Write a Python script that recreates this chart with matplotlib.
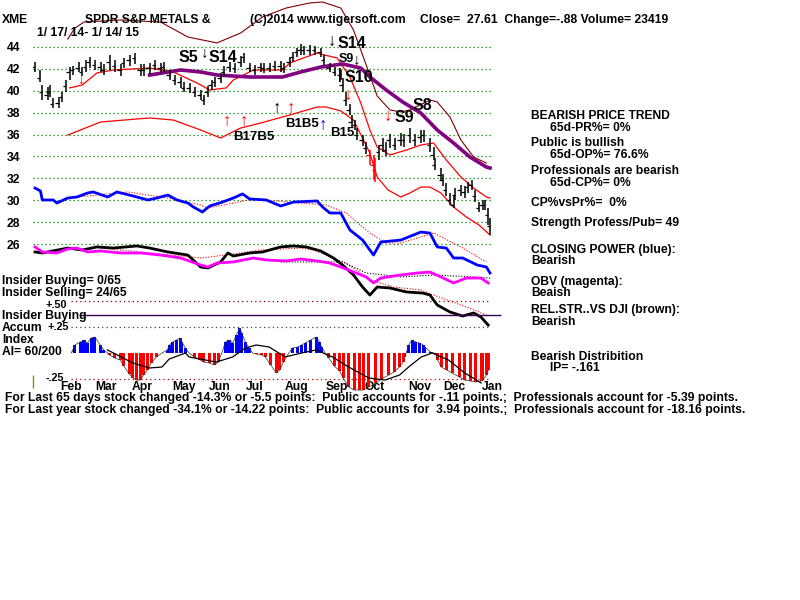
import matplotlib
matplotlib.use("Agg")
import matplotlib.pyplot as plt

plt.rcParams['font.family'] = ['Liberation Sans', 'DejaVu Sans']
plt.rcParams['font.weight'] = 'bold'

# ---------------- data (x = trading day index from 1/17/14) ----------------
bar_day = [0, 3, 4, 7, 8, 10, 13, 15, 17, 19,
           21, 24, 26, 28, 30, 33, 36, 38, 41, 44,
           47, 49, 52, 55, 58, 60, 63, 66, 69, 71,
           74, 77, 80, 82, 85, 88, 91, 93, 95, 97,
           99, 102, 104, 107, 110, 113, 115, 118, 121, 124,
           126, 129, 132, 135, 137, 140, 142, 144, 146, 148,
           151, 154, 157, 159, 162, 165, 168, 169, 171, 173,
           174, 176, 177, 180, 182, 184, 186, 187, 189, 191,
           193, 195, 198, 201, 203, 206, 209, 212, 214, 217,
           219, 220, 223, 224, 226, 228, 230, 231, 234, 236,
           238, 240, 242, 244, 246, 247, 249, 250]
bar_close = [42.17, 41.17, 39.89, 39.62, 39.89, 38.79, 38.89, 39.43, 40.44, 41.72,
             41.90, 42.08, 41.72, 42.17, 42.63, 42.36, 42.17, 41.90, 42.63, 42.26,
             41.90, 42.54, 42.81, 43.00, 41.90, 41.90, 42.08, 42.36, 42.08, 42.17,
             41.44, 40.99, 40.80, 40.26, 40.26, 39.89, 39.62, 39.16, 39.89, 40.53,
             40.80, 41.17, 41.72, 42.17, 42.08, 42.63, 43.09, 42.08, 41.90, 42.17,
             42.08, 42.08, 42.26, 42.26, 42.08, 42.63, 43.09, 43.54, 43.73, 43.73,
             43.73, 43.73, 43.54, 42.81, 42.08, 41.72, 41.44, 40.53, 39.16, 38.25,
             37.15, 36.88, 35.96, 35.51, 34.78, 34.14, 33.22, 32.77, 34.41, 35.05,
             34.59, 35.51, 35.05, 35.51, 35.51, 35.96, 35.51, 35.78, 35.96, 35.05,
             34.14, 33.22, 32.31, 31.85, 30.94, 30.03, 29.57, 30.48, 30.94, 30.76,
             31.21, 31.40, 30.39, 29.30, 29.57, 29.57, 28.66, 27.61]
bar_high = [42.63, 41.90, 40.53, 40.35, 40.53, 39.34, 39.43, 39.89, 40.99, 42.17,
            42.26, 42.63, 42.17, 42.81, 43.09, 42.81, 42.63, 42.45, 43.27, 42.81,
            42.45, 43.00, 43.27, 43.45, 42.45, 42.45, 42.54, 42.81, 42.54, 42.63,
            41.90, 41.44, 41.26, 40.80, 40.71, 40.35, 40.07, 39.62, 40.44, 40.99,
            41.26, 41.63, 42.26, 42.63, 42.54, 43.18, 43.45, 42.54, 42.36, 42.54,
            42.54, 42.54, 42.72, 42.72, 42.54, 43.09, 43.54, 43.91, 44.27, 44.09,
            44.18, 44.09, 43.91, 43.27, 42.54, 42.17, 41.90, 41.17, 39.89, 38.79,
            37.79, 37.33, 36.60, 35.96, 35.32, 34.59, 34.14, 33.86, 35.05, 35.69,
            35.32, 36.05, 35.69, 36.15, 36.05, 36.60, 36.05, 36.42, 36.42, 35.69,
            34.87, 33.86, 32.95, 32.40, 31.58, 30.67, 30.39, 31.12, 31.40, 31.31,
            31.67, 31.85, 30.94, 29.84, 30.03, 30.03, 29.30, 28.38]
bar_low = [41.72, 40.80, 39.16, 39.16, 39.43, 38.43, 38.43, 38.98, 39.89, 40.99,
           41.44, 41.72, 41.35, 41.72, 42.08, 41.90, 41.72, 41.44, 41.90, 41.72,
           41.35, 42.08, 42.26, 42.45, 41.35, 41.35, 41.53, 41.90, 41.63, 41.72,
           40.99, 40.53, 40.26, 39.89, 39.80, 39.43, 39.16, 38.70, 39.43, 40.07,
           40.35, 40.71, 41.35, 41.72, 41.63, 42.17, 42.54, 41.72, 41.44, 41.72,
           41.63, 41.72, 41.81, 41.72, 41.63, 42.17, 42.63, 43.09, 43.27, 43.27,
           43.27, 43.27, 43.09, 42.36, 41.72, 41.35, 40.99, 39.89, 38.61, 37.79,
           36.69, 36.42, 35.51, 34.96, 34.23, 33.22, 31.85, 31.67, 33.68, 34.41,
           34.05, 34.78, 34.59, 34.96, 34.87, 35.23, 34.96, 35.23, 35.32, 34.41,
           33.68, 32.77, 31.85, 31.31, 30.39, 29.57, 29.30, 30.03, 30.39, 30.21,
           30.67, 30.94, 29.84, 28.93, 29.11, 29.11, 27.74, 26.83]
red_bar_days = [184, 186, 187]

upper_day = [18, 22, 27, 47, 69, 77, 84, 100, 113, 125, 138, 151, 158, 168, 175, 181,
             188, 195, 201, 206, 217, 221, 228, 234, 241, 248]
upper_val = [44.73, 45.74, 46.28, 46.47, 46.28, 45.55, 44.91, 44.37, 45.28, 46.74, 47.56,
             48.02, 48.11, 47.56, 45.55, 42.81, 39.53, 38.25, 38.07, 38.25, 39.16, 38.98,
             37.61, 35.51, 33.95, 33.40]
mid_day = [19, 26, 34, 43, 63, 76, 89, 96, 105, 109, 120, 136, 140, 155, 159, 166, 173,
           179, 184, 188, 195, 204, 212, 219, 226, 234, 241, 248, 250]
mid_val = [40.26, 40.53, 41.63, 41.90, 42.08, 41.72, 40.71, 40.07, 40.26, 40.99, 41.90,
           41.90, 42.54, 43.45, 43.27, 43.00, 41.26, 38.89, 36.42, 34.87, 34.14, 34.59,
           35.05, 35.23, 33.68, 32.13, 31.12, 30.30, 30.21]
lower_day = [18, 36, 63, 76, 91, 102, 113, 124, 140, 155, 160, 168, 175, 184, 188, 194,
             201, 206, 212, 217, 223, 230, 237, 244, 250]
lower_val = [35.96, 37.15, 37.52, 37.33, 36.42, 35.69, 36.60, 37.06, 37.79, 38.52, 38.52,
             38.16, 37.33, 34.32, 32.13, 30.94, 30.30, 30.67, 31.21, 31.21, 30.67, 29.39,
             28.47, 27.74, 26.83]
purple_day = [63, 80, 91, 100, 118, 136, 146, 157, 169, 179, 184, 193, 202, 212, 221, 230,
              239, 248, 250]
purple_val = [41.44, 41.90, 41.72, 41.44, 41.26, 41.26, 41.72, 42.17, 42.45, 42.08, 41.26,
              40.07, 38.98, 37.97, 36.42, 35.23, 33.95, 33.04, 32.95]

cp_day = [0, 3, 4, 10, 12, 18, 23, 29, 32, 40, 45, 54, 62, 67, 73, 78, 84, 87, 92, 96,
          103, 109, 114, 118, 127, 135, 142, 155, 158, 162, 168, 173, 180, 186, 190, 201,
          212, 217, 221, 226, 230, 235, 243, 248, 250]
cp_val = [31.12, 30.85, 30.03, 30.03, 29.75, 30.21, 30.30, 30.67, 30.76, 30.30, 30.76,
          30.39, 30.03, 30.21, 30.48, 30.03, 29.75, 29.39, 28.93, 29.48, 29.84, 30.21,
          30.58, 30.12, 30.03, 29.48, 29.84, 29.94, 29.39, 28.84, 28.84, 27.29, 26.37,
          25.00, 26.19, 26.37, 27.10, 27.01, 25.74, 25.64, 24.73, 24.73, 24.09, 23.91, 23.36]
cpma_day = [18, 51, 73, 91, 95, 109, 120, 146, 160, 171, 184, 193, 201, 212, 219, 234, 248]
cpma_val = [30.21, 30.76, 30.21, 29.57, 29.30, 29.75, 30.12, 29.75, 29.57, 28.84, 27.01,
            26.10, 26.10, 26.65, 27.01, 25.74, 24.37]

obv_day = [0, 4, 12, 18, 23, 29, 36, 47, 58, 69, 80, 91, 95, 100, 109, 120, 127, 138, 146,
           155, 162, 168, 175, 182, 186, 190, 201, 210, 217, 223, 230, 237, 245, 249]
obv_val = [25.74, 25.28, 25.19, 25.55, 25.64, 25.28, 25.37, 25.19, 25.19, 25.00, 24.73,
           24.09, 23.91, 24.27, 24.37, 24.73, 24.55, 24.46, 24.64, 24.46, 24.27, 23.91,
           23.45, 23.00, 22.45, 22.90, 23.18, 23.36, 23.45, 23.00, 22.45, 22.90, 22.90, 22.45]
obvma_day = [135, 169, 182, 201, 219, 241, 250]
obvma_val = [24.37, 24.37, 23.36, 23.00, 23.18, 23.00, 22.90]

rs_day = [0, 4, 18, 26, 34, 43, 56, 63, 73, 84, 91, 95, 102, 106, 109, 118, 125, 135, 142,
          149, 157, 164, 169, 175, 180, 184, 188, 195, 204, 213, 217, 221, 228, 235, 241,
          245, 249]
rs_val = [25.28, 25.19, 25.64, 25.46, 25.74, 25.64, 25.83, 25.64, 25.28, 25.00, 23.91,
          23.82, 24.37, 25.19, 24.91, 25.19, 25.28, 25.74, 25.83, 25.74, 25.37, 24.73,
          24.09, 23.18, 22.08, 21.35, 22.08, 21.99, 21.63, 21.53, 21.35, 20.44, 19.80,
          19.43, 19.71, 19.34, 18.61]
rsma_day = [36, 91, 109, 124, 146, 153, 171, 184, 197, 212, 219, 237, 248]
rsma_val = [25.64, 24.73, 25.10, 25.46, 25.64, 25.46, 24.27, 22.72, 22.08, 21.81, 21.35,
            20.26, 19.52]

ai_day = [20, 22, 25, 27, 29, 31, 33, 36, 38, 40, 41, 44, 47, 49, 52, 54, 56, 58, 60, 62,
          64, 67, 70, 73, 74, 76, 78, 80, 81, 83, 85, 88, 91, 93, 96, 99, 101, 103, 105, 107,
          109, 111, 113, 114, 116, 118, 120, 122, 125, 127, 130, 133, 135, 137, 140, 142,
          145, 147, 149, 152, 155, 157, 158, 160, 162, 165, 168, 170, 173, 176, 179, 181,
          184, 188, 191, 195, 198, 201, 203, 204, 206, 208, 210, 212, 214, 215, 218, 221,
          222, 224, 227, 230, 234, 237, 240, 243, 246, 247, 249, 250]
ai_val = [0.0, .077, .106, .125, .096, .144, .154, .077, .029, 0.0,
          -.019, -.048, -.067, -.125, -.202, -.24, -.26, -.26, -.212, -.163,
          -.096, -.038, 0.0, .029, .077, .106, .125, .144, .106, .048,
          0.0, -.038, -.067, -.087, -.096, -.115, -.087, 0.0, .106, .125,
          .096, .173, .24, .192, .106, .048, 0.0, -.01, -.019, -.038,
          -.115, -.192, -.163, -.087, 0.0, .048, .058, .077, .096, .125,
          .154, .106, .058, 0.0, -.048, -.125, -.173, -.24, -.327, -.356,
          -.356, -.356, -.327, -.288, -.25, -.212, -.183, -.135, -.087, -.038,
          .077, .125, .106, .096, .077, .058, .01, -.005, -.067, -.135,
          -.163, -.192, -.231, -.26, -.269, -.279, -.269, -.26, -.212, -.163]
aima_day = [40, 54, 63, 70, 74, 83, 85, 100, 109, 116, 122, 129, 138, 147, 155, 164, 173,
            184, 193, 201, 206, 213, 219, 228, 237, 246]
aima_val = [.029, -.096, -.144, -.135, -.058, 0.0, -.038, -.087, -.038, .048, .077, .058,
            -.038, 0.0, .029, -.038, -.135, -.24, -.26, -.212, -.135, -.038, 0.0, -.067,
            -.192, -.288]

price_ticks = [44, 42, 40, 38, 36, 34, 32, 30, 28, 26]
month_labels = ['Feb', 'Mar', 'Apr', 'May', 'Jun', 'Jul', 'Aug', 'Sep', 'Oct', 'Nov', 'Dec', 'Jan']
month_pos = [20, 39, 59, 82, 102, 121, 144.5, 166.5, 187.5, 212, 231, 252]
ai_levels = [0.5, 0.25, -0.25]
insider_level = 0.365

# ---------------- figure ----------------
W, H = 800, 600
fig = plt.figure(figsize=(8, 6), dpi=100)
fig.patch.set_facecolor('white')


def box(x0, y0, x1, y1):
    return [x0 / W, 1 - y1 / H, (x1 - x0) / W, (y1 - y0) / H]


def ftext(px, py, s, size=8.7, color='black', ha='left', va='center', **kw):
    fig.text(px / W, 1 - py / H, s, fontsize=size, color=color, ha=ha, va=va,
             fontweight='bold', **kw)


XL = (-1.1, 251.1)

# price panel
ax = fig.add_axes(box(33, 0, 492, 330))
ax.set_xlim(*XL)
ax.set_ylim(18.155, 48.292)
ax.patch.set_alpha(0)
for s in ax.spines.values():
    s.set_visible(False)
ax.set_xticks([])
ax.set_yticks(price_ticks)
ax.set_yticklabels([str(t) for t in price_ticks], fontsize=8.7, fontweight='bold')
ax.tick_params(axis='y', length=0, pad=9)
ax.hlines(price_ticks, -1, 250.5, colors='#008000', linestyles=(0, (1, 2.2)), lw=0.9, zorder=1)

ax.plot(upper_day, upper_val, color='#800000', lw=0.8, clip_on=False, zorder=2)
ax.plot(mid_day, mid_val, color='#ff0000', lw=0.9, clip_on=False, zorder=2)
ax.plot(lower_day, lower_val, color='#ff0000', lw=0.9, clip_on=False, zorder=2)
ax.plot(purple_day, purple_val, color='#800080', lw=2.6, clip_on=False, zorder=3)

bar_colors = ['#ff0000' if d in red_bar_days else 'black' for d in bar_day]
ax.vlines(bar_day, bar_low, bar_high, colors=bar_colors, lw=1.1, zorder=4)
ax.scatter(bar_day, bar_close, marker=0, s=6, c=bar_colors, lw=0.9, zorder=4)

ax.plot(cpma_day, cpma_val, color='#ff0000', lw=0.8, ls=(0, (1, 1.5)), zorder=2)
ax.plot(cp_day, cp_val, color='#0000ff', lw=2.0, zorder=3)
ax.plot(rsma_day, rsma_val, color='#ff0000', lw=0.8, ls=(0, (1, 1.5)), zorder=2)
ax.plot(obvma_day, obvma_val, color='black', lw=0.8, ls=(0, (1, 1.5)), zorder=2)
ax.plot(rs_day, rs_val, color='black', lw=2.0, zorder=3)
ax.plot(obv_day, obv_val, color='#ff00ff', lw=2.0, zorder=3)

# accumulation index panel
ax2 = fig.add_axes(box(33, 285, 492, 381))
ax2.set_xlim(*XL)
ax2.set_ylim(-0.2692, 0.6538)
ax2.patch.set_alpha(0)
for s in ax2.spines.values():
    s.set_visible(False)
ax2.set_yticks([])
ax2.set_xticks(month_pos)
ax2.set_xticklabels(month_labels, fontsize=8.7, fontweight='bold')
ax2.tick_params(axis='x', length=0, pad=0)

ax2.hlines(ai_levels, 20, 250, colors=['#800000', '#404040', '#c00000'],
           linestyles=(0, (1, 2.5)), lw=0.9, zorder=1)
ax2.hlines([insider_level], 25, 257, colors='#3c0050', lw=1.0, clip_on=False, zorder=2)
ai_colors = ['#0000ff' if v > 0 else '#ff0000' for v in ai_val]
ax2.bar(ai_day, ai_val, width=1.7, color=ai_colors, lw=0, clip_on=False, zorder=3)
ax2.plot(ai_day, ai_val, color='#303030', lw=0.5, clip_on=False, zorder=3)
ax2.plot(aima_day, aima_val, color='black', lw=0.9, clip_on=False, zorder=4)
ax2.vlines([-1], -0.21, -0.337, colors='#a08000', lw=1.0, clip_on=False)

# ---------------- texts ----------------
ftext(2, 20, 'XME')
ftext(85, 20, 'SPDR S&P METALS &')
ftext(250, 20, '(C)2014 www.tigersoft.com')
ftext(420, 20, 'Close=  27.61  Change=-.88 Volume= 23419')
ftext(37, 33, '1/ 17/ 14- 1/ 14/ 15')

# signals
ftext(179, 58, 'S5', size=11.5)
ftext(201, 52, '\u2193', size=11)
ftext(209, 58, 'S14', size=11.5)
ftext(328, 41, '\u2193', size=12)
ftext(338, 44, 'S14', size=11.5)
ftext(339, 59, 'S9', size=9)
ftext(353, 59, '\u2193', size=11)
ftext(338, 75, '|', size=10)
ftext(345, 77, 'S10', size=11.5)
ftext(344, 95, '\u2193', size=12, color='#ff0000')
ftext(384, 116, '\u2193', size=12, color='#ff0000')
ftext(395, 117, 'S9', size=11.5)
ftext(413, 105, 'S8', size=11.5)
ftext(77, 80, '\u2193', size=10, color='#ff0000')
ftext(223, 121, '\u2191', size=12, color='#ff0000')
ftext(240, 121, '\u2191', size=12, color='#ff0000')
ftext(233, 137, 'B17B5', size=9.5)
ftext(273, 108, '\u2191', size=12, color='black')
ftext(287, 108, '\u2191', size=12, color='#ff0000')
ftext(285, 124, 'B1B5', size=9.5)
ftext(319, 125, '\u2191', size=12, color='#0000ff')
ftext(330, 133, 'B15', size=9.5)

# right panel
right = [(531, 116, 'BEARISH PRICE TREND'), (550, 128, '65d-PR%= 0%'),
         (531, 143, 'Public is bullish'), (550, 155, '65d-OP%= 76.6%'),
         (531, 171, 'Professionals are bearish'), (550, 183, '65d-CP%= 0%'),
         (531, 203, 'CP%vsPr%=  0%'), (531, 223, 'Strength Profess/Pub= 49'),
         (531, 250, 'CLOSING POWER (blue):'), (531, 261, 'Bearish'),
         (531, 282, 'OBV (magenta):'), (531, 293, 'Beaish'),
         (531, 310, 'REL.STR..VS DJI (brown):'), (531, 322, 'Bearish'),
         (531, 357, 'Bearish Distribition'), (550, 368, 'IP= -.161')]
for x, y, s in right:
    ftext(x, y, s)

# left panel
left = [(2, 281, 'Insider Buying= 0/65'), (2, 293, 'Insider Selling= 24/65'),
        (46, 305, '+.50'), (2, 316, 'Insider Buying'), (2, 328, 'Accum'),
        (47, 327, '+.25'), (2, 340, 'Index'), (2, 352, 'AI= 60/200'),
        (72, 352, '-'), (46, 378, '-.25')]
for x, y, s in left:
    ftext(x, y, s, size=8.7 if s[0] not in '+-' else 7.8)

ftext(5, 398, 'For Last 65 days stock changed -14.3% or -5.5 points:  Public accounts for -.11 points.;  '
              'Professionals account for -5.39 points.')
ftext(5, 410, 'For Last year stock changed -34.1% or -14.22 points:  Public accounts for  3.94 points.;  '
              'Professionals account for -18.16 points.')

fig.savefig('out.png', dpi=100, facecolor='white')
